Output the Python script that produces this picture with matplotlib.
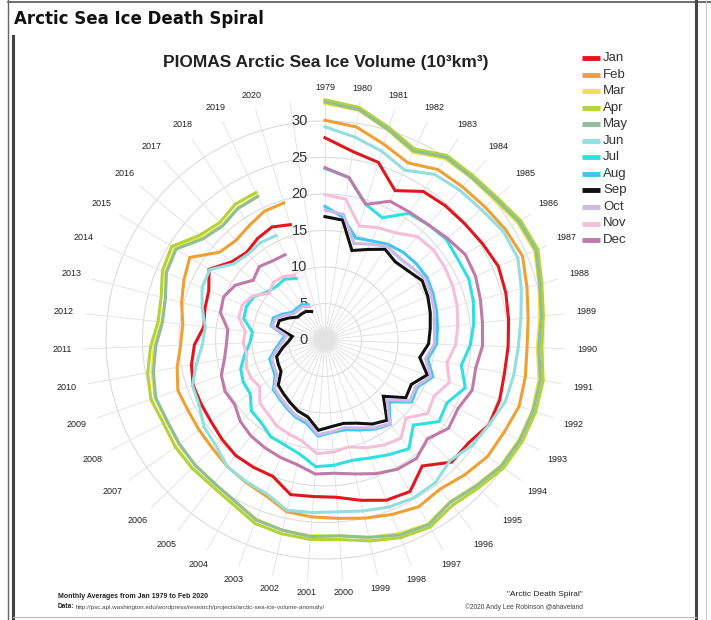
import numpy as np
import matplotlib
matplotlib.use('Agg')
import matplotlib.pyplot as plt
from matplotlib.patches import Circle

# PIOMAS monthly volume (10^3 km^3), one value per year from 1979
jan = [27.7, 26.1, 25.4, 22.6, 24.4, 24.7, 24.9, 25.3, 25.8, 25.6, 25.3, 25.1, 25.0, 25.3,
       25.3, 24.2, 24.1, 21.8, 23.8, 23.5, 22.5, 21.6, 21.5, 21.7, 20.0, 20.0, 20.0, 19.6,
       19.2, 19.1, 19.1, 18.6, 17.9, 16.7, 17.0, 17.3, 18.6, 16.7, 16.1, 16.7, 17.1, 16.5]
feb = [30.1, 29.5, 28.0, 26.8, 28.0, 28.2, 28.5, 29.0, 29.4, 28.6, 28.0, 27.7, 27.9, 28.1,
       27.6, 27.4, 26.6, 25.8, 26.2, 25.6, 25.0, 24.5, 24.3, 24.1, 22.8, 22.3, 21.9, 21.4,
       21.2, 21.1, 21.3, 20.6, 19.8, 19.6, 20.3, 21.0, 21.7, 18.8, 18.3, 18.8, 19.5, 19.6]
mar = [32.4, 31.8, 30.0, 28.4, 29.8, 29.9, 30.1, 30.9, 31.2, 30.3, 29.6, 29.1, 29.8, 30.0,
       29.9, 29.6, 28.7, 28.0, 28.9, 28.4, 27.7, 26.9, 26.9, 26.7, 26.3, 25.3, 24.8, 24.7,
       24.6, 24.4, 24.6, 24.1, 23.4, 22.5, 22.6, 23.7, 24.1, 21.9, 21.1, 21.7, 21.8]
apr = [32.9, 32.2, 30.4, 28.9, 30.3, 30.3, 30.6, 31.4, 31.7, 30.7, 30.1, 29.7, 30.4, 30.5,
       30.4, 30.1, 29.2, 28.6, 29.4, 29.0, 28.2, 27.4, 27.4, 27.2, 26.9, 25.8, 25.3, 25.3,
       25.2, 24.9, 25.2, 24.7, 23.9, 23.0, 23.2, 24.2, 24.6, 22.4, 21.6, 22.3, 22.3]
may = [32.6, 31.9, 30.1, 28.6, 30.0, 30.0, 30.3, 31.1, 31.4, 30.4, 29.8, 29.3, 30.0, 30.1,
       30.0, 29.7, 28.8, 28.1, 29.0, 28.6, 27.7, 26.9, 27.0, 26.7, 26.4, 25.3, 24.8, 24.7,
       24.5, 24.3, 24.5, 23.9, 23.2, 22.4, 22.6, 23.6, 23.9, 21.7, 21.0, 21.6, 21.7]
jun = [29.2, 28.1, 27.0, 25.7, 27.2, 27.6, 27.9, 28.6, 28.7, 27.8, 27.0, 26.5, 26.3, 26.1,
       25.3, 24.8, 23.8, 24.7, 24.8, 24.5, 24.0, 23.6, 23.7, 23.9, 22.5, 22.2, 21.9, 20.8,
       20.4, 19.4, 19.2, 17.9, 16.8, 16.5, 17.4, 18.3, 18.5, 16.3, 15.8, 16.0, 15.8]
jul = [23.5, 22.5, 19.4, 18.5, 20.8, 21.2, 21.6, 21.3, 21.4, 21.0, 20.5, 19.9, 19.0, 20.3,
       18.8, 19.2, 16.8, 18.8, 18.0, 17.3, 16.9, 17.2, 17.4, 16.0, 15.4, 15.2, 14.3, 14.0,
       12.6, 12.6, 12.2, 11.2, 10.3, 10.0, 11.5, 11.7, 11.4, 10.3, 9.9, 10.0, 9.3]
aug = [18.3, 17.0, 14.6, 15.0, 15.7, 16.1, 16.3, 16.4, 16.1, 15.8, 15.5, 15.3, 14.3, 15.6,
       14.2, 14.6, 12.2, 14.6, 14.0, 13.2, 12.6, 12.7, 13.2, 11.7, 11.3, 10.7, 10.2, 9.8,
       8.4, 8.1, 8.0, 6.9, 6.1, 5.5, 7.6, 7.7, 6.8, 5.9, 5.8, 5.8, 5.3]
sep = [16.9, 16.6, 12.8, 13.7, 14.9, 14.4, 14.8, 15.6, 15.3, 14.9, 14.5, 14.2, 13.2, 14.8,
       13.3, 13.6, 11.1, 13.9, 13.2, 12.2, 11.7, 11.9, 12.4, 10.8, 10.4, 9.8, 9.3, 8.9,
       7.4, 7.2, 7.0, 5.9, 5.0, 4.5, 6.8, 6.8, 5.8, 4.9, 4.8, 4.7, 4.3]
oct_ = [17.8, 17.4, 13.8, 14.5, 15.4, 15.2, 15.5, 16.1, 15.8, 15.5, 15.1, 15.0, 14.0, 15.3,
        14.0, 14.3, 11.8, 14.5, 13.8, 12.9, 12.3, 12.6, 13.0, 11.4, 11.1, 10.5, 10.0, 9.6,
        8.1, 7.9, 7.7, 6.6, 5.8, 5.3, 7.5, 7.4, 6.5, 5.6, 5.5, 5.5, 5.1]
nov = [19.9, 19.5, 16.3, 17.0, 17.6, 19.0, 19.3, 19.2, 19.0, 18.7, 18.3, 17.9, 17.0, 18.0,
       16.8, 17.3, 15.4, 17.0, 16.5, 15.8, 15.0, 15.4, 15.6, 14.2, 13.8, 13.5, 12.8, 12.4,
       11.0, 11.4, 11.4, 10.9, 11.2, 11.0, 12.2, 12.3, 11.6, 10.0, 10.6, 10.4, 9.8]
dec = [23.6, 22.5, 19.4, 21.0, 21.0, 21.2, 21.8, 22.5, 22.4, 22.0, 21.7, 21.6, 21.0, 21.3,
       20.5, 20.8, 19.5, 20.5, 20.3, 19.6, 18.8, 18.3, 18.4, 17.5, 17.2, 16.9, 16.6, 16.1,
       15.2, 15.4, 15.0, 14.0, 13.5, 13.4, 14.8, 15.1, 14.4, 12.8, 13.5, 13.0, 12.9]

months = ['Jan', 'Feb', 'Mar', 'Apr', 'May', 'Jun', 'Jul', 'Aug', 'Sep', 'Oct', 'Nov', 'Dec']
series = [jan, feb, mar, apr, may, jun, jul, aug, sep, oct_, nov, dec]
colors = ['#e3161d', '#f0a033', '#f4e23c', '#b5d335', '#8fbf98', '#93dede',
          '#2fe0e0', '#3ec6ee', '#111111', '#cbb9e6', '#f5c0d7', '#c07aa8']
years = list(range(1979, 2021))
n_slots = 43          # one empty slot between 2020 and 1979
r_ticks = [0, 5, 10, 15, 20, 25, 30]

W, H = 711, 620
fig = plt.figure(figsize=(W / 100, H / 100), dpi=100)

# page furniture in pixel coords
bg = fig.add_axes([0, 0, 1, 1])
bg.set_xlim(0, W)
bg.set_ylim(H, 0)
bg.axis('off')
bg.plot([8, W], [2, 2], color='#555555', lw=1.2)
bg.plot([8, 8], [0, H], color='#666666', lw=1.0)
bg.plot([13, 13], [36, H], color='#444444', lw=2.2)
bg.plot([696, 696], [0, H], color='#444444', lw=2.2)
bg.plot([706, 706], [0, H], color='#cccccc', lw=0.8)
bg.plot([13, 696], [617, 617], color='#bbbbbb', lw=0.8)
bg.text(14, 19, 'Arctic Sea Ice Death Spiral', fontsize=12, fontweight='bold',
        family='DejaVu Sans', va='center', ha='left', color='#111111')
bg.text(326, 62, 'PIOMAS Arctic Sea Ice Volume (10³km³)', fontsize=12.5, fontweight='bold',
        family='Liberation Sans', ha='center', va='center', color='#222222')

# soft grey spot in the middle
for i in range(10):
    bg.add_patch(Circle((325, 340), 14 * (1 - i / 10), color='#888888', alpha=0.06, lw=0))

# legend
for i, (m, c) in enumerate(zip(months, colors)):
    y = 58 + i * 16.55
    bg.plot([582, 600], [y, y], color=c, lw=3.5, solid_capstyle='butt')
    bg.text(603, y, m, fontsize=9.5, family='Liberation Sans', va='center', ha='left', color='#333333')

# footnotes
bg.text(58, 597, 'Monthly Averages from Jan 1979 to Feb 2020', fontsize=5, fontweight='bold',
        family='Liberation Sans', va='center', color='#222222')
bg.text(58, 607, 'Data:', fontsize=4.7, fontweight='bold', family='Liberation Sans',
        va='center', color='#222222')
bg.text(76, 607, 'http://psc.apl.washington.edu/wordpress/research/projects/arctic-sea-ice-volume-anomaly/',
        fontsize=4.5, family='Liberation Sans', va='center', color='#444444')
bg.text(583, 595, '"Arctic Death Spiral"', fontsize=6, family='Liberation Sans',
        ha='right', va='center', color='#222222')
bg.text(583, 607, '©2020 Andy Lee Robinson @ahaveland', fontsize=4.8, family='Liberation Sans',
        ha='right', va='center', color='#444444')

# polar chart, centre at (325, 340) px, 7.3 px per unit
rmax = 36
rad = rmax * 7.3
ax = fig.add_axes([(325 - rad) / W, (H - 340 - rad) / H, 2 * rad / W, 2 * rad / H],
                  projection='polar')
ax.set_theta_zero_location('N')
ax.set_theta_direction(-1)
ax.set_ylim(0, rmax)
ax.set_axis_off()

slot = 2 * np.pi / n_slots
circ = np.linspace(0, 2 * np.pi, 400)
for r in r_ticks[1:]:
    ax.plot(circ, np.full_like(circ, r), color='#dcdcdc', lw=0.8, zorder=1)
for k in range(n_slots):
    ax.plot([k * slot, k * slot], [0, 33], color='#e4e4e4', lw=0.7, zorder=1)

for k, yr in enumerate(years):
    th = k * slot
    rl = 34.6 + 1.4 * abs(np.sin(th))
    ax.text(th, rl, str(yr), fontsize=6.5, family='Liberation Sans', ha='center', va='center',
            color='#222222')

for v in r_ticks:
    ax.annotate(str(v), xy=(0, v), xytext=(-12.5, 0), textcoords='offset points',
                ha='right', va='center', fontsize=10.5, family='Liberation Sans', color='#333333')

for vals, c in zip(series, colors):
    th = np.arange(len(vals)) * slot
    ax.plot(th, vals, color=c, lw=2.2, zorder=3, solid_joinstyle='miter')

fig.savefig('out.png', dpi=100)
